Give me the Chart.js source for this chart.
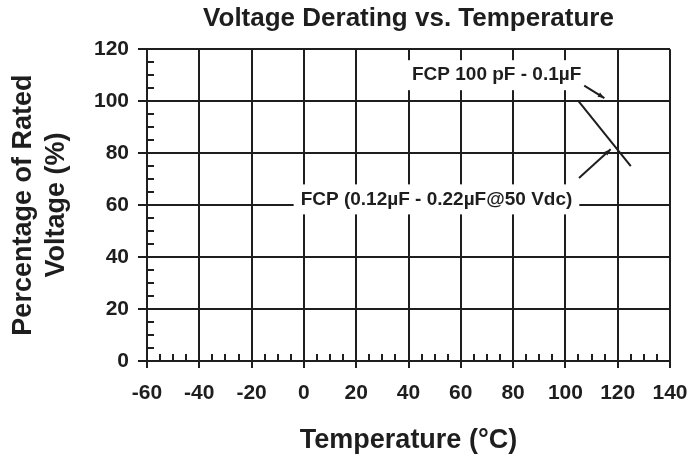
<!DOCTYPE html>
<html>
<head>
<meta charset="utf-8">
<script src="https://cdn.jsdelivr.net/npm/chart.js@4.4.0/dist/chart.umd.min.js"></script>
<style>
  html, body { margin: 0; padding: 0; background: #fff; }
  #wrap { width: 689px; height: 459px; }
</style>
</head>
<body>
<div id="wrap"><canvas id="chart" width="689" height="459"></canvas></div>
<script>
// data
const tempPoints = [105, 125];
const voltPoints = [100, 75];
const xTicks = [-60, -40, -20, 0, 20, 40, 60, 80, 100, 120, 140];
const yTicks = [0, 20, 40, 60, 80, 100, 120];

// callouts (data coordinates)
const labelText = ['FCP 100 pF - 0.1\u00b5F', 'FCP (0.12\u00b5F - 0.22\u00b5F@50 Vdc)'];
const labelAt = [[73.7, 110], [50.7, 62.2]];
const arrowFrom = [[107.2, 106], [105.2, 70.4]];
const arrowTo = [[114.9, 101.2], [117.3, 81.5]];

const ink = '#1e1e1e';
const fam = '"Liberation Sans", Arial, sans-serif';

// small inner ticks every 5 units + callout labels/arrows
const extras = {
  id: 'extras',
  beforeDatasetsDraw(chart) {
    const { ctx, scales: { x, y } } = chart;
    ctx.save();
    ctx.strokeStyle = ink;
    ctx.lineWidth = 2;
    ctx.beginPath();
    for (let v = -55; v < 140; v += 5) {
      if (v % 20 === 0) continue;
      const px = Math.round(x.getPixelForValue(v));
      ctx.moveTo(px, y.bottom);
      ctx.lineTo(px, y.bottom - 7);
    }
    for (let v = 5; v < 120; v += 5) {
      if (v % 20 === 0) continue;
      const py = Math.round(y.getPixelForValue(v));
      ctx.moveTo(x.left, py);
      ctx.lineTo(x.left + 7, py);
    }
    ctx.stroke();

    // label boxes hide the grid behind them
    ctx.font = 'bold 19px ' + fam;
    ctx.textAlign = 'center';
    ctx.textBaseline = 'middle';
    labelText.forEach((t, i) => {
      const cx = x.getPixelForValue(labelAt[i][0]);
      const cy = y.getPixelForValue(labelAt[i][1]);
      const w = ctx.measureText(t).width;
      ctx.fillStyle = '#fff';
      ctx.fillRect(cx - w / 2 - 7, cy - 15, w + 14, 30);
      ctx.fillStyle = ink;
      ctx.fillText(t, cx, cy);
    });

    // arrows
    arrowFrom.forEach((f, i) => {
      const x1 = x.getPixelForValue(f[0]), y1 = y.getPixelForValue(f[1]);
      const x2 = x.getPixelForValue(arrowTo[i][0]), y2 = y.getPixelForValue(arrowTo[i][1]);
      const a = Math.atan2(y2 - y1, x2 - x1);
      ctx.beginPath();
      ctx.moveTo(x1, y1);
      ctx.lineTo(x2, y2);
      ctx.stroke();
      ctx.beginPath();
      ctx.moveTo(x2, y2);
      ctx.lineTo(x2 - 7 * Math.cos(a - 0.35), y2 - 7 * Math.sin(a - 0.35));
      ctx.lineTo(x2 - 7 * Math.cos(a + 0.35), y2 - 7 * Math.sin(a + 0.35));
      ctx.closePath();
      ctx.fillStyle = ink;
      ctx.fill();
    });
    ctx.restore();
  }
};

const ctx = document.getElementById('chart').getContext('2d');
new Chart(ctx, {
  type: 'scatter',
  data: {
    datasets: [{
      data: tempPoints.map((t, i) => ({ x: t, y: voltPoints[i] })),
      showLine: true,
      borderColor: ink,
      borderWidth: 2,
      pointRadius: 0,
      fill: false
    }]
  },
  options: {
    responsive: false,
    animation: false,
    layout: { padding: { left: 0, right: 0, top: 0, bottom: 0 } },
    plugins: {
      legend: { display: false },
      tooltip: { enabled: false },
      title: {
        display: true,
        fullSize: false,
        text: 'Voltage Derating vs. Temperature',
        color: ink,
        font: { family: fam, size: 26, weight: 'bold', lineHeight: 1.2 },
        padding: { top: 3, bottom: 15 }
      }
    },
    scales: {
      x: {
        type: 'linear',
        min: -60,
        max: 140,
        afterBuildTicks: (s) => { s.ticks = xTicks.map(v => ({ value: v })); },
        afterFit: (s) => { s.height = 98; s.paddingRight = 19; s.paddingLeft = 0; },
        grid: { color: ink, lineWidth: 2, tickLength: 7, tickColor: ink },
        border: { color: ink, width: 2 },
        ticks: { color: ink, font: { family: fam, size: 21, weight: 'bold' }, padding: 13, maxRotation: 0 },
        title: {
          display: true,
          text: 'Temperature (\u00b0C)',
          color: ink,
          font: { family: fam, size: 27, weight: 'bold', lineHeight: 1.2 },
          padding: { top: 0, bottom: 2 }
        }
      },
      y: {
        type: 'linear',
        min: 0,
        max: 120,
        afterBuildTicks: (s) => { s.ticks = yTicks.map(v => ({ value: v })); },
        afterFit: (s) => { s.width = 147; },
        grid: { color: ink, lineWidth: 2, tickLength: 9, tickColor: ink },
        border: { color: ink, width: 2 },
        ticks: { color: ink, font: { family: fam, size: 21, weight: 'bold' }, padding: 9 },
        title: {
          display: true,
          text: ['Percentage of Rated', 'Voltage (%)'],
          color: ink,
          font: { family: fam, size: 27, weight: 'bold', lineHeight: 1.22 },
          padding: { top: 7, bottom: 0 }
        }
      }
    }
  },
  plugins: [extras]
});
</script>
</body>
</html>
